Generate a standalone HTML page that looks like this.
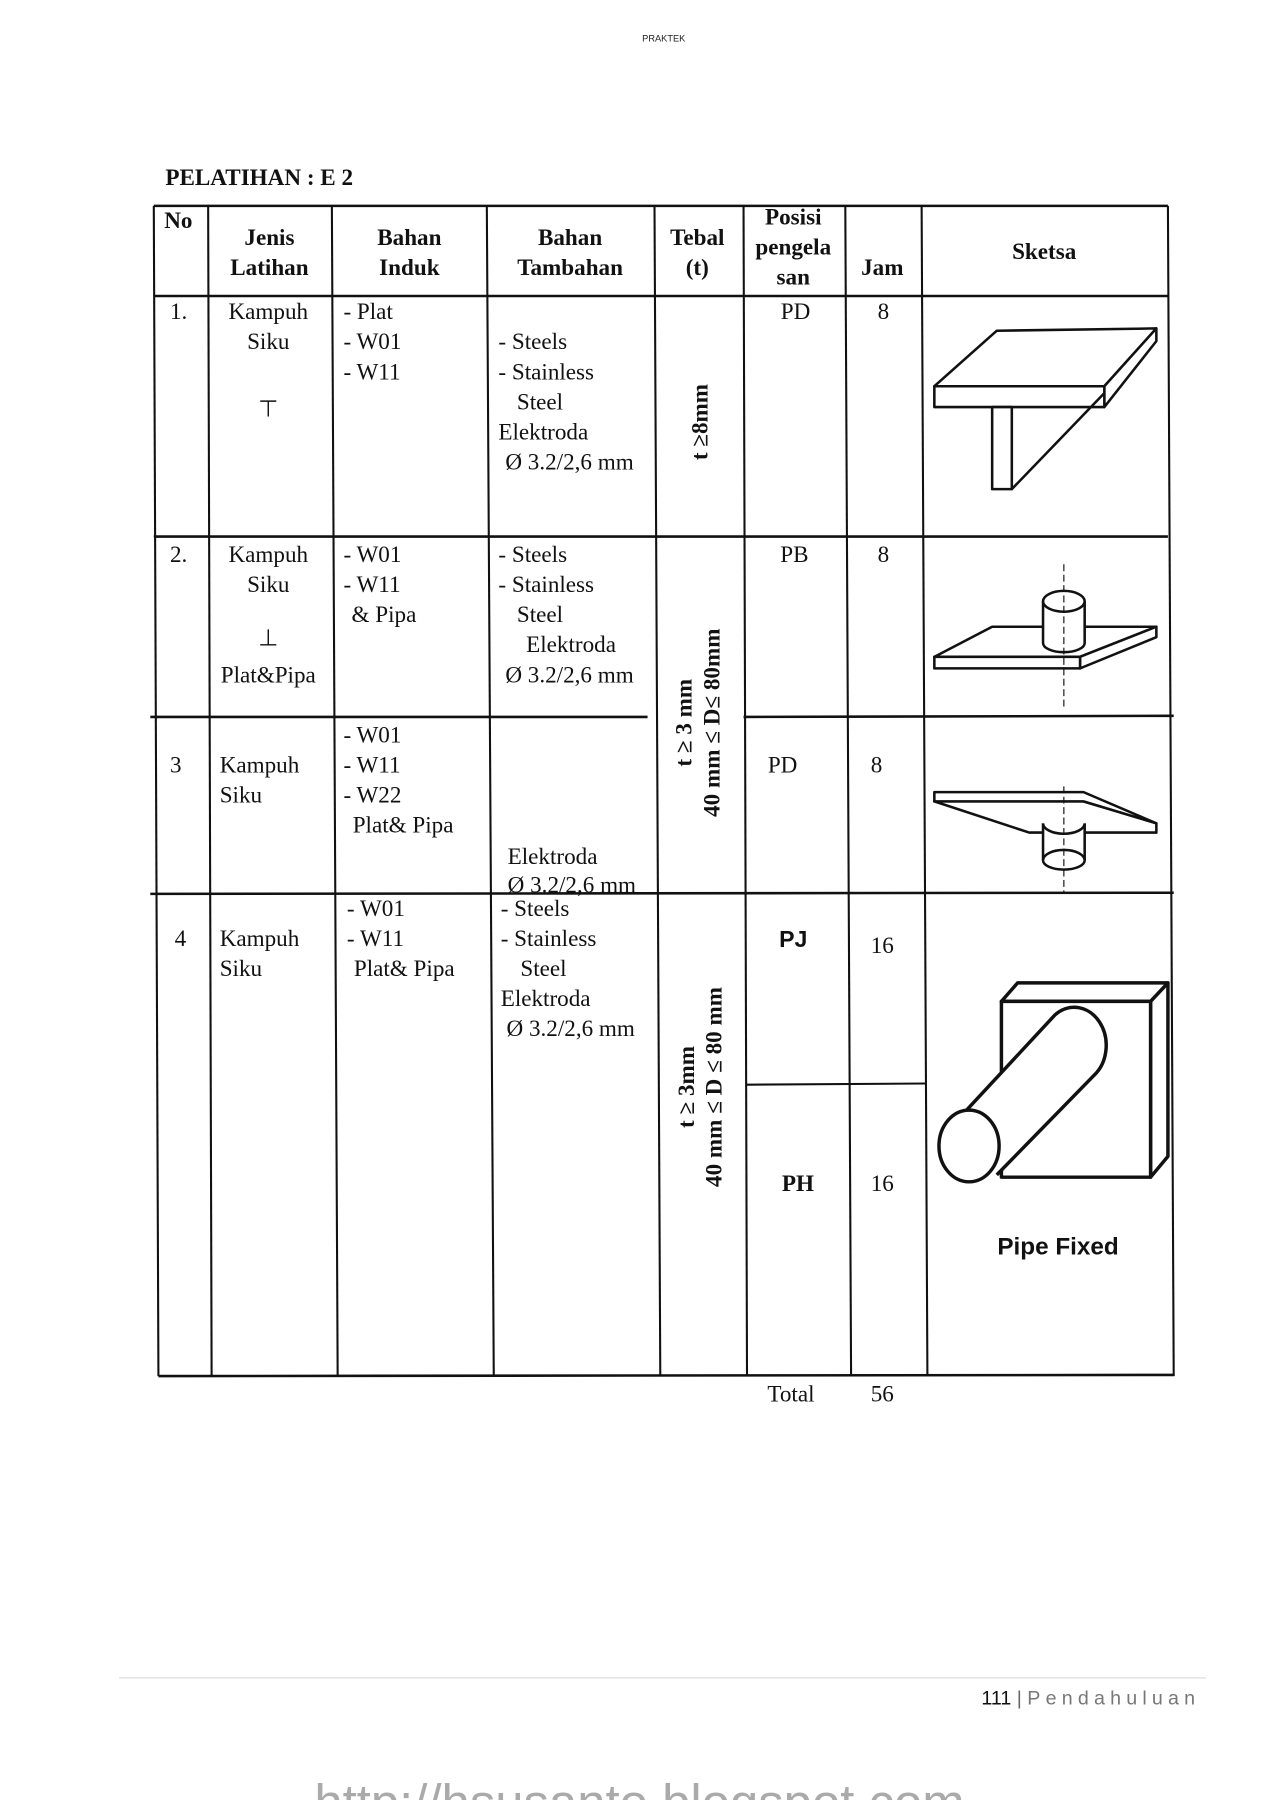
<!DOCTYPE html>
<html><head><meta charset="utf-8"><style>
html,body{margin:0;padding:0;background:#fff;}
svg{display:block;}
.t{font-family:"Liberation Serif",serif;font-size:20px;fill:#111;}
.b{font-weight:bold;}
.c{text-anchor:middle;}
</style></head><body>
<svg width="1272" height="1800" viewBox="0 0 1100 1556.6" xmlns="http://www.w3.org/2000/svg">
<text x="574" y="36" font-family="Liberation Sans,sans-serif" font-size="8" text-anchor="middle" fill="#222">PRAKTEK</text>
<text x="143" y="160" class="t b" font-size="20">PELATIHAN : E 2</text>

<g stroke="#111" stroke-width="1.8" fill="none">
<line x1="133" y1="178" x2="1010" y2="178" stroke-width="2.2"/>
<line x1="133" y1="256" x2="1010" y2="256" stroke-width="2.2"/>
<line x1="133" y1="178" x2="137" y2="1190"/>
<line x1="180" y1="178" x2="183" y2="1190"/>
<line x1="287" y1="178" x2="292" y2="1190"/>
<line x1="421" y1="178" x2="427" y2="1190"/>
<line x1="566" y1="178" x2="571" y2="1190"/>
<line x1="643" y1="178" x2="646" y2="1190"/>
<line x1="731" y1="178" x2="736" y2="1190"/>
<line x1="797" y1="178" x2="802" y2="1190"/>
<line x1="1010" y1="178" x2="1015" y2="1190"/>
<line x1="133" y1="464" x2="1010" y2="464" stroke-width="2.2"/>
<line x1="130" y1="620" x2="560" y2="620" stroke-width="2.2"/>
<line x1="643" y1="620" x2="1015" y2="619" stroke-width="2.2"/>
<line x1="130" y1="773" x2="1015" y2="772" stroke-width="2.2"/>
<line x1="137" y1="1190" x2="1015" y2="1189" stroke-width="2.2"/>
<line x1="646" y1="938" x2="800" y2="937"/>
</g>

<text x="142" y="197" class="t b">No</text>
<text x="233" y="212" class="t b c">Jenis</text><text x="233" y="238" class="t b c">Latihan</text>
<text x="354" y="212" class="t b c">Bahan</text><text x="354" y="238" class="t b c">Induk</text>
<text x="493" y="212" class="t b c">Bahan</text><text x="493" y="238" class="t b c">Tambahan</text>
<text x="603" y="212" class="t b c">Tebal</text><text x="603" y="238" class="t b c">(t)</text>
<text x="686" y="194" class="t b c">Posisi</text><text x="686" y="220" class="t b c">pengela</text><text x="686" y="246" class="t b c">san</text>
<text x="763" y="238" class="t b c">Jam</text>
<text x="903" y="224" class="t b c">Sketsa</text>

<text x="147" y="276" class="t">1.</text>
<text x="232" y="276" class="t c">Kampuh</text><text x="232" y="302" class="t c">Siku</text>
<text x="232" y="360" class="t c">⊤</text>
<text x="297" y="276" class="t">-  Plat</text><text x="297" y="302" class="t">-  W01</text><text x="297" y="328" class="t">-  W11</text>
<text x="431" y="302" class="t">- Steels</text><text x="431" y="328" class="t">- Stainless</text>
<text x="447" y="354" class="t">Steel</text><text x="431" y="380" class="t">Elektroda</text><text x="437" y="406" class="t">Ø 3.2/2,6 mm</text>
<text transform="translate(612,365) rotate(-90)" class="t b c">t ≥8mm</text>
<text x="688" y="276" class="t c">PD</text><text x="764" y="276" class="t c">8</text>
<g stroke="#111" stroke-width="2.2" fill="#fff" stroke-linejoin="round">
<polygon points="808,334 862,286 1000,284 955,334"/>
<polygon points="1000,284 1000,295 955,352 955,334"/>
<rect x="808" y="334" width="147" height="18"/>
<polyline points="955,340 875,423"/>
<rect x="858" y="352" width="17" height="71"/>
</g>

<text x="147" y="486" class="t">2.</text>
<text x="232" y="486" class="t c">Kampuh</text><text x="232" y="512" class="t c">Siku</text>
<text x="232" y="558" class="t c">⊥</text><text x="232" y="590" class="t c">Plat&amp;Pipa</text>
<text x="297" y="486" class="t">- W01</text><text x="297" y="512" class="t">- W11</text><text x="304" y="538" class="t">&amp; Pipa</text>
<text x="431" y="486" class="t">- Steels</text><text x="431" y="512" class="t">- Stainless</text>
<text x="447" y="538" class="t">Steel</text><text x="455" y="564" class="t">Elektroda</text><text x="437" y="590" class="t">Ø 3.2/2,6 mm</text>
<text transform="translate(598,625) rotate(-90)" class="t b c">t ≥  3 mm</text>
<text transform="translate(622,625) rotate(-90)" class="t b c">40 mm ≤ D≤  80mm</text>
<text x="687" y="486" class="t c">PB</text><text x="764" y="486" class="t c">8</text>
<g stroke="#111" stroke-width="2.2" fill="#fff" stroke-linejoin="round">
<polygon points="808,568 858,542 1000,542 934,568"/>
<polygon points="1000,542 1000,551 934,578 934,568"/>
<rect x="808" y="568" width="126" height="10"/>
<path d="M902,520 L902,556 A18,8 0 0 0 938,556 L938,520"/>
<ellipse cx="920" cy="520" rx="18" ry="9"/>
</g>
<line x1="920" y1="488" x2="920" y2="612" stroke="#111" stroke-width="1" stroke-dasharray="6,3"/>

<text x="147" y="668" class="t">3</text>
<text x="190" y="668" class="t">Kampuh</text><text x="190" y="694" class="t">Siku</text>
<text x="297" y="642" class="t">-  W01</text><text x="297" y="668" class="t">- W11</text><text x="297" y="694" class="t">- W22</text><text x="305" y="720" class="t">Plat&amp; Pipa</text>
<text x="439" y="747" class="t">Elektroda</text><text x="439" y="772" class="t">Ø 3.2/2,6 mm</text>
<text x="664" y="668" class="t">PD</text><text x="758" y="668" class="t c">8</text>
<g stroke="#111" stroke-width="2.2" fill="#fff" stroke-linejoin="round">
<polygon points="808,693 937,693 1000,712 1000,720 890,720"/>
<polygon points="808,685 937,685 1000,712 937,693 808,693"/>
<path d="M902,712 L902,744 A18,8 0 0 0 938,744 L938,712"/>
<path d="M902,744 A18,9 0 0 1 938,744"/>
<path d="M902,712 A18,9 0 0 0 938,712"/>
</g>
<line x1="920" y1="680" x2="920" y2="773" stroke="#111" stroke-width="1" stroke-dasharray="6,3"/>

<text x="151" y="818" class="t">4</text>
<text x="190" y="818" class="t">Kampuh</text><text x="190" y="844" class="t">Siku</text>
<text x="300" y="792" class="t">- W01</text><text x="300" y="818" class="t">- W11</text><text x="306" y="844" class="t">Plat&amp; Pipa</text>
<text x="433" y="792" class="t">- Steels</text><text x="433" y="818" class="t">- Stainless</text>
<text x="450" y="844" class="t">Steel</text><text x="433" y="870" class="t">Elektroda</text><text x="438" y="896" class="t">Ø 3.2/2,6 mm</text>
<text transform="translate(600,940) rotate(-90)" class="t b c">t ≥ 3mm</text>
<text transform="translate(624,940) rotate(-90)" class="t b c">40 mm ≤ D ≤ 80 mm</text>
<text x="686" y="819" font-family="Liberation Sans,sans-serif" font-weight="bold" font-size="20" text-anchor="middle" fill="#111">PJ</text>
<text x="753" y="824" class="t">16</text>
<text x="690" y="1030" class="t b c">PH</text>
<text x="753" y="1030" class="t">16</text>
<g stroke="#111" stroke-width="3" fill="#fff" stroke-linejoin="round">
<polygon points="866,866 880,850 1010,850 995,866"/>
<polygon points="1010,850 1010,1000 995,1018 995,866"/>
<rect x="866" y="866" width="129" height="152"/>
<path d="M834,962 L912,878 A26,31 0 0 1 946,930 L862,1016"/>
<ellipse cx="838" cy="991" rx="26" ry="31"/>
</g>
<text x="915" y="1085" font-family="Liberation Sans,sans-serif" font-weight="bold" font-size="21" text-anchor="middle" fill="#111">Pipe Fixed</text>

<text x="684" y="1212" class="t c">Total</text><text x="763" y="1212" class="t c">56</text>

<line x1="103" y1="1451" x2="1043" y2="1451" stroke="#ddd" stroke-width="1"/>
<text x="1038" y="1474" text-anchor="end" font-family="Liberation Sans,sans-serif" font-size="17" fill="#111">111 <tspan fill="#666">| </tspan><tspan fill="#777" letter-spacing="4.5">Pendahuluan</tspan></text>
<text x="553" y="1574" text-anchor="middle" font-family="Liberation Sans,sans-serif" font-size="44" fill="#aaa">http://hsusanto.blogspot.com</text>
</svg>
</body></html>
